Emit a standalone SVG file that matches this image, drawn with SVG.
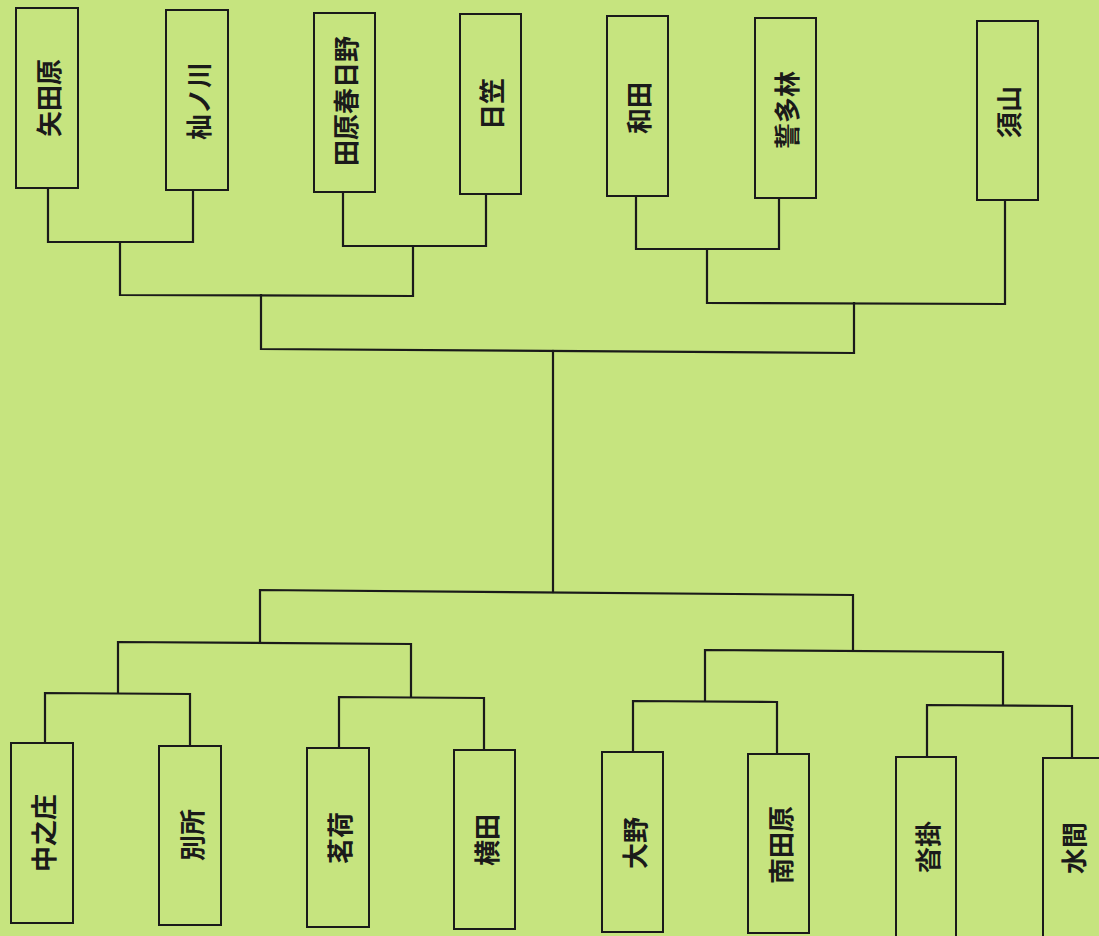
<svg xmlns="http://www.w3.org/2000/svg" width="1099" height="936" viewBox="0 0 1099 936">
<style>
.box{fill:none;stroke:#1a1a1a;stroke-width:2}
.ln{fill:none;stroke:#1a1a1a;stroke-width:2.2;stroke-linejoin:miter;stroke-linecap:square}
.t{font-family:"Noto Sans CJK JP","Noto Sans CJK SC",sans-serif;font-weight:bold;font-size:26px;fill:#1a1a1a;text-anchor:middle;dominant-baseline:central}
</style>
<rect width="1099" height="936" fill="#c6e47f"/>
<g id="connectors">
<polyline class="ln" points="48,188 48,242 193,242 193,190"/>
<polyline class="ln" points="343,192 343,246 486,246 486,194"/>
<polyline class="ln" points="120,242 120,295 413,296 413,246"/>
<polyline class="ln" points="636,196 636,249 779,249 779,198"/>
<polyline class="ln" points="707,249 707,303 1005,304 1005,200"/>
<polyline class="ln" points="261,295 261,349 854,353 854,303"/>
<line class="ln" x1="553" y1="351" x2="553" y2="592"/>
<polyline class="ln" points="260,642 260,590 853,595 853,650"/>
<polyline class="ln" points="118,693 118,642 411,644 411,697"/>
<polyline class="ln" points="45,743 45,693 190,694 190,746"/>
<polyline class="ln" points="339,748 339,697 484,698 484,750"/>
<polyline class="ln" points="705,701 705,650 1003,652 1003,705"/>
<polyline class="ln" points="633,752 633,701 777,702 777,754"/>
<polyline class="ln" points="927,757 927,705 1072,706 1072,758"/>
</g>
<g id="n-yatahara"><rect class="box" x="16" y="8" width="62" height="180"/><text class="t" transform="translate(47,98) rotate(-90)">矢田原</text></g>
<g id="n-somanokawa"><rect class="box" x="166" y="10" width="62" height="180"/><text class="t" transform="translate(197,101) rotate(-90)">杣ノ川</text></g>
<g id="n-taharakasugano"><rect class="box" x="314" y="13" width="61" height="179"/><text class="t" transform="translate(344,101) rotate(-90)">田原春日野</text></g>
<g id="n-kasagi"><rect class="box" x="460" y="14" width="61" height="180"/><text class="t" transform="translate(490,104) rotate(-90)">日笠</text></g>
<g id="n-wada"><rect class="box" x="607" y="16" width="61" height="180"/><text class="t" transform="translate(637,108) rotate(-90)">和田</text></g>
<g id="n-seitarin"><rect class="box" x="755" y="18" width="61" height="180"/><text class="t" transform="translate(785,110) rotate(-90)">誓多林</text></g>
<g id="n-suyama"><rect class="box" x="977" y="21" width="61" height="179"/><text class="t" transform="translate(1007,112) rotate(-90)">須山</text></g>
<g id="n-nakanosho"><rect class="box" x="11" y="743" width="62" height="180"/><text class="t" transform="translate(42,833) rotate(-90)">中之庄</text></g>
<g id="n-bessho"><rect class="box" x="159" y="746" width="62" height="179"/><text class="t" transform="translate(190,835) rotate(-90)">別所</text></g>
<g id="n-myoga"><rect class="box" x="307" y="748" width="62" height="179"/><text class="t" transform="translate(338,838) rotate(-90)">茗荷</text></g>
<g id="n-yokota"><rect class="box" x="454" y="750" width="61" height="179"/><text class="t" transform="translate(485,840) rotate(-90)">横田</text></g>
<g id="n-ono"><rect class="box" x="602" y="752" width="61" height="180"/><text class="t" transform="translate(633,843) rotate(-90)">大野</text></g>
<g id="n-minamitahara"><rect class="box" x="748" y="754" width="61" height="179"/><text class="t" transform="translate(779,845) rotate(-90)">南田原</text></g>
<g id="n-kutsukake"><rect class="box" x="896" y="757" width="60" height="184"/><text class="t" transform="translate(926,847) rotate(-90)">沓掛</text></g>
<g id="n-mizuma"><rect class="box" x="1043" y="758" width="62" height="184"/><text class="t" transform="translate(1072,848) rotate(-90)">水間</text></g>
</svg>
